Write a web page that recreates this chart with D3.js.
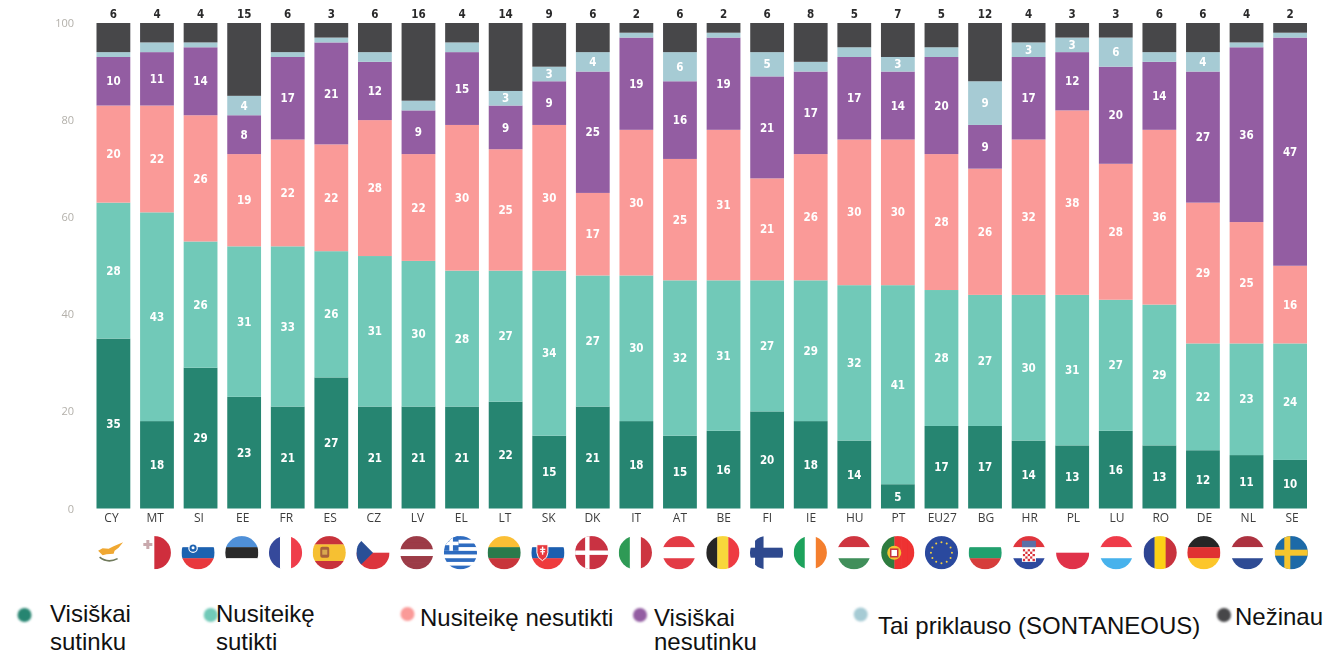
<!DOCTYPE html>
<html><head><meta charset="utf-8">
<style>html,body{margin:0;padding:0;background:#fff;overflow:hidden}svg{display:block}</style>
<script src="https://cdn.jsdelivr.net/npm/d3@7"></script></head>
<body><script>
const countries=["CY","MT","SI","EE","FR","ES","CZ","LV","EL","LT","SK","DK","IT","AT","BE","FI","IE","HU","PT","EU27","BG","HR","PL","LU","RO","DE","NL","SE"];
const stronglyAgree=[35,18,29,23,21,27,21,21,21,22,15,21,18,15,16,20,18,14,5,17,17,14,13,16,13,12,11,10];
const tendAgree=[28,43,26,31,33,26,31,30,28,27,34,27,30,32,31,27,29,32,41,28,27,30,31,27,29,22,23,24];
const tendDisagree=[20,22,26,19,22,22,28,22,30,25,30,17,30,25,31,21,26,30,30,28,26,32,38,28,36,29,25,16];
const stronglyDisagree=[10,11,14,8,17,21,12,9,15,9,9,25,19,16,19,21,17,17,14,20,9,17,12,20,14,27,36,47];
const depends=[1,2,1,4,1,1,2,2,2,3,3,4,1,6,1,5,2,2,3,2,9,3,3,6,2,4,1,1];
const dontKnow=[6,4,4,15,6,3,6,16,4,14,9,6,2,6,2,6,8,5,7,5,12,4,3,3,6,6,4,2];
const seriesColors=["#268571","#71c9b8","#fa9a98","#935da2","#a6cbd4","#464649"];
const yTicks=[0,20,40,60,80,100];
const W=1325,H=652;
const rows=countries.map((c,i)=>({c,s0:stronglyAgree[i],s1:tendAgree[i],s2:tendDisagree[i],s3:stronglyDisagree[i],s4:depends[i],s5:dontKnow[i]}));
const keys=["s0","s1","s2","s3","s4","s5"];
const stacked=d3.stack().keys(keys)(rows);
const x=d3.scaleBand().domain(countries).range([96.5,1307]).paddingInner(0.2246).paddingOuter(0);
const y=d3.scaleLinear().domain([0,100]).range([508.5,23]);
const xLabel=d3.scalePoint().domain(countries).range([111,1291.5]);
const xFlag=d3.scalePoint().domain(countries).range([110.6,1291.3]);
const svg=d3.select("body").append("svg").attr("width",W).attr("height",H).attr("viewBox",`0 0 ${W} ${H}`);
const defs=svg.append("defs");
defs.append("filter").attr("id","soft").attr("x","-5%").attr("y","-5%").attr("width","110%").attr("height","110%").append("feGaussianBlur").attr("stdDeviation",0.35);
defs.append("filter").attr("id","dot").attr("x","-50%").attr("y","-50%").attr("width","200%").attr("height","200%").append("feGaussianBlur").attr("stdDeviation",1.1);
const chart=svg.append("g").attr("filter","url(#soft)");
const yAxis=d3.axisLeft(y).tickValues(yTicks).tickSize(0).tickPadding(0);
const yg=chart.append("g").attr("transform","translate(74,0)").call(yAxis);
yg.select(".domain").remove();
yg.selectAll("text").attr("font-family","'Open Sans'").attr("font-size",11).attr("fill","#b3b0aa");
const groups=chart.selectAll("g.series").data(stacked).join("g").attr("class","series").attr("fill",(d,i)=>seriesColors[i]);
groups.selectAll("rect").data(d=>d).join("rect")
 .attr("x",d=>x(d.data.c)).attr("width",x.bandwidth())
 .attr("y",d=>y(d[1])).attr("height",d=>y(d[0])-y(d[1]));
const labelFont="'DejaVu Sans Condensed','DejaVu Sans'";
stacked.forEach((s,i)=>{
  if(i===5)return;
  chart.append("g").selectAll("text").data(s.filter(d=>d[1]-d[0]>=3)).join("text")
   .attr("x",d=>x(d.data.c)+x.bandwidth()/2).attr("y",d=>y((d[0]+d[1])/2)).attr("dy","0.36em")
   .attr("text-anchor","middle").attr("font-family",labelFont).attr("font-stretch","condensed").attr("font-weight",700).attr("font-size",11.5).attr("fill","#fff")
   .text(d=>d[1]-d[0]);
});
chart.append("g").selectAll("text").data(rows).join("text")
 .attr("x",d=>x(d.c)+x.bandwidth()/2).attr("y",18).attr("text-anchor","middle")
 .attr("font-family",labelFont).attr("font-stretch","condensed").attr("font-weight",700).attr("font-size",11.5).attr("fill","#2a2a2c").text(d=>d.s5);
const xAxis=d3.axisBottom(xLabel).tickSize(0).tickPadding(0);
const xg=chart.append("g").attr("transform","translate(0,513)").call(xAxis);
xg.select(".domain").remove();
xg.selectAll("text").attr("font-family","'Open Sans'").attr("font-size",12).attr("fill","#3d3d3d");

const R=16.6, cyF=552.7;
const white="#fff";
const flagSpecs={
 CY:{dir:"h",cols:[white]},
 MT:{dir:"v",cols:[white,"#cf2f3c"]},
 SI:{dir:"h",cols:[white,"#1f62b0","#e8383c"]},
 EE:{dir:"h",cols:["#4f90d8","#2a2a2c",white]},
 FR:{dir:"v",cols:["#35499b",white,"#ef3e4c"]},
 ES:{dir:"h",cols:["#c8323a","#f6c033","#f6c033","#c8323a"]},
 CZ:{dir:"h",cols:[white,"#dc353c"]},
 LV:{dir:"h",cols:["#9c3a46","#9c3a46",white,"#9c3a46","#9c3a46"]},
 EL:{dir:"h",cols:["#2f6cc0",white,"#2f6cc0",white,"#2f6cc0",white,"#2f6cc0",white,"#2f6cc0"]},
 LT:{dir:"h",cols:["#fbbf35","#2b7a4b","#c8343b"]},
 SK:{dir:"h",cols:[white,"#1f5fb0","#ee3a3e"]},
 DK:{dir:"h",cols:["#c93043"]},
 IT:{dir:"v",cols:["#2f9a55",white,"#cd3540"]},
 AT:{dir:"h",cols:["#e33a45",white,"#e33a45"]},
 BE:{dir:"v",cols:["#262626","#f8d73a","#ee3a43"]},
 FI:{dir:"h",cols:[white]},
 IE:{dir:"v",cols:["#1fa25b",white,"#f47f2d"]},
 HU:{dir:"h",cols:["#cf3540",white,"#3f8f5a"]},
 PT:{dir:"v",cols:["#2e7b3f","#2e7b3f","#ee3030","#ee3030","#ee3030"]},
 EU27:{dir:"h",cols:["#2b4a9e"]},
 BG:{dir:"h",cols:[white,"#21a06e","#d63c3a"]},
 HR:{dir:"h",cols:["#e0353c",white,"#2f4a9e"]},
 PL:{dir:"h",cols:[white,"#e03348"]},
 LU:{dir:"h",cols:["#ef3a48",white,"#47b2ec"]},
 RO:{dir:"v",cols:["#2f4493","#fcd116","#c8303c"]},
 DE:{dir:"h",cols:["#262626","#e03232","#fcc62a"]},
 NL:{dir:"h",cols:["#ad3340",white,"#2d4c94"]},
 SE:{dir:"h",cols:["#1f6aa8"]}
};
const flags=chart.append("g");
countries.forEach(c=>{
  const cx=xFlag(c), sp=flagSpecs[c];
  defs.append("clipPath").attr("id","f"+c).append("circle").attr("cx",cx).attr("cy",cyF).attr("r",R);
  const g=flags.append("g").attr("clip-path",`url(#f${c})`);
  const n=sp.cols.length, L=2*R, s=L/n;
  sp.cols.forEach((col,j)=>{
    if(sp.dir==="h")g.append("rect").attr("x",cx-R).attr("y",cyF-R+j*s).attr("width",L).attr("height",s+0.3).attr("fill",col);
    else g.append("rect").attr("x",cx-R+j*s).attr("y",cyF-R).attr("width",s+0.3).attr("height",L).attr("fill",col);
  });
  const bar=(a,b,w,h,col)=>g.append("rect").attr("x",cx+a).attr("y",cyF+b).attr("width",w).attr("height",h).attr("fill",col);
  if(c==="CY"){
    g.append("path").attr("fill","#f0a832").attr("d",`M${cx-12.5} ${cyF-2} L${cx-8} ${cyF-4.5} L${cx-2} ${cyF-4} L${cx+3} ${cyF-6.5} L${cx+12.5} ${cyF-10.5} L${cx+8} ${cyF-5} L${cx+4} ${cyF-2} L${cx+3} ${cyF+1} L${cx-4} ${cyF+1.5} L${cx-8} ${cyF+2.5}Z`);
    g.append("path").attr("fill","none").attr("stroke","#6f7a5c").attr("stroke-width",1.5).attr("d",`M${cx-11} ${cyF+4.5} Q${cx-3} ${cyF+11} ${cx+7} ${cyF+6}`);
  }
  if(c==="MT"){bar(-11,-9.7,9,3,"#c9a9ad");bar(-8,-12.7,3,9,"#c9a9ad");}
  if(c==="SI"){g.append("circle").attr("cx",cx-5).attr("cy",cyF-4.5).attr("r",4.2).attr("fill","#1f62b0").attr("stroke",white).attr("stroke-width",1.2);g.append("circle").attr("cx",cx-5).attr("cy",cyF-5).attr("r",1.5).attr("fill",white);}
  if(c==="CZ"){g.append("path").attr("fill","#2b4f96").attr("d",`M${cx-R} ${cyF-R} L${cx} ${cyF} L${cx-R} ${cyF+R}z`);}
  if(c==="EL"){bar(-R,-R,14.7,14.7,"#2f6cc0");bar(-R,-R+5.5,14.7,3.6,white);bar(-R+5.5,-R,3.6,14.7,white);}
  if(c==="SK"){g.append("path").attr("fill","#e8383c").attr("stroke",white).attr("stroke-width",1).attr("d",`M${cx-11} ${cyF-8} h11 v8 q0 5 -5.5 8 q-5.5 -3 -5.5 -8z`);bar(-6,-6,1.4,8,white);bar(-8,-4,5.4,1.2,white);bar(-7.6,-1.6,4.6,1.2,white);}
  if(c==="DK"){bar(-R,-2.2,L,4.4,white);bar(-6.5,-R,4.4,L,white);}
  if(c==="FI"){bar(-R,-5,L,10,"#2f4a8e");bar(-11.5,-R,8.5,L,"#2f4a8e");}
  if(c==="SE"){bar(-R,-3,L,6,"#f6c52f");bar(-7,-R,6,L,"#f6c52f");}
  if(c==="ES"){g.append("rect").attr("x",cx-9).attr("y",cyF-6).attr("width",9).attr("height",11).attr("rx",2).attr("fill","#a8603a");bar(-7,-3,5,5,"#d9a84f");}
  if(c==="PT"){g.append("circle").attr("cx",cx-3.5).attr("cy",cyF).attr("r",7).attr("fill","#f4c430");g.append("rect").attr("x",cx-7).attr("y",cyF-3.5).attr("width",7).attr("height",7.5).attr("fill",white).attr("stroke","#c8303c").attr("stroke-width",1.5);}
  if(c==="EU27"){d3.range(12).forEach(k=>{const t=k*Math.PI/6;g.append("circle").attr("cx",cx+10.5*Math.cos(t)).attr("cy",cyF+10.5*Math.sin(t)).attr("r",1).attr("fill","#f4d03f");});}
  if(c==="HR"){bar(-7,-3.8,14,13,white);for(let a=0;a<5;a++)for(let b=0;b<5;b++){bar(-6+a*2.4,-3.5+b*2.4,2.4,2.4,(a+b)%2?white:"#d8323a");}bar(-7,-12,14,6.5,"#5a6fa8");}
});

const legendItems=[
 {i:0,dx:24.5,dy:615,tx:50,ty:622,lines:["Visiškai","sutinku"]},
 {i:1,dx:210.7,dy:615,tx:216,ty:622,lines:["Nusiteikę","sutikti"]},
 {i:2,dx:407.5,dy:614,tx:420,ty:626,lines:["Nusiteikę nesutikti"]},
 {i:3,dx:640,dy:615,tx:654,ty:626,lines:["Visiškai","nesutinku"]},
 {i:4,dx:860.7,dy:614.5,tx:878,ty:634,lines:["Tai priklauso (SONTANEOUS)"]},
 {i:5,dx:1224,dy:615,tx:1235,ty:625,lines:["Nežinau"]}
];
const leg=svg.append("g");
leg.selectAll("circle").data(legendItems).join("circle").attr("cx",d=>d.dx).attr("cy",d=>d.dy).attr("r",7).attr("fill",d=>seriesColors[d.i]).attr("filter","url(#dot)");
legendItems.forEach(d=>{
  const t=leg.append("text").attr("font-family","'Liberation Sans'").attr("font-size",24).attr("fill","#111");
  d.lines.forEach((l,j)=>t.append("tspan").attr("x",d.tx).attr("y",Math.min(d.ty+j*27.5,650)).text(l));
});
</script></body></html>
